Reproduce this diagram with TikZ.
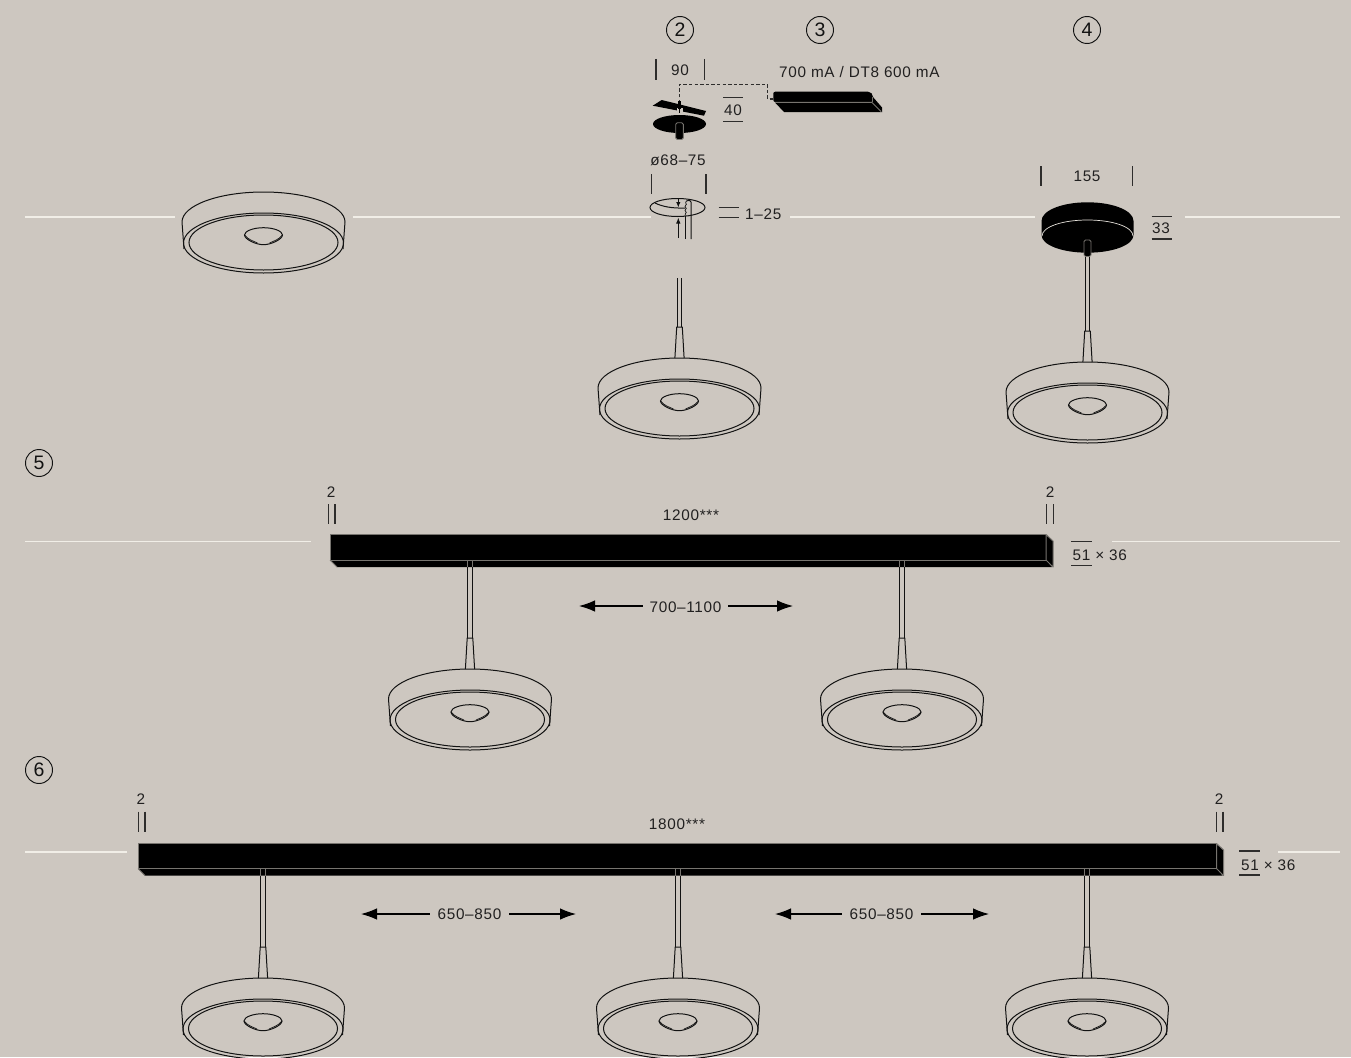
\documentclass[tikz,border=0pt]{standalone}
\usepackage{fontspec}
\setmainfont[LetterSpace=4.5]{Liberation Sans}
\definecolor{bgc}{HTML}{CDC7C0}
\definecolor{ink}{HTML}{121212}
\definecolor{edgegray}{HTML}{77746F}
\definecolor{axisc}{HTML}{F1EEE7}
\usetikzlibrary{arrows.meta}
\tikzset{
  lamp/.style={draw=ink,line width=1pt,fill=none},
  axisl/.style={draw=axisc,line width=1.5pt},
  tick/.style={draw=ink!85!bgc,line width=1.05pt},
  lbl/.style={text=ink!92!bgc,font=\fontsize{15.3pt}{17pt}\selectfont,inner sep=0pt},
  circnum/.style={draw=ink,line width=0.95pt,circle,minimum size=27pt,inner sep=0pt,text=ink,font=\fontsize{19.5pt}{20pt}\selectfont},
  dimarrow/.style={draw=black,line width=1.1pt,-{Latex[length=16pt,width=11.5pt]}},
}
\newcommand{\lampbody}[2]{%
  \begin{scope}[shift={(#1,#2)}]
    \draw[lamp,line join=round] (-79.5,6) -- (-81.5,-21)
       .. controls (-81.5,-37.5) and (-45,-51) .. (0,-51)
       .. controls (45,-51) and (81.5,-37.5) .. (81.5,-21) -- (79.5,6);
    \draw[lamp] (0,0) ellipse [x radius=80,y radius=30];
    \draw[lamp] (0,-0.5) ellipse [x radius=74.5,y radius=27.5];
    \draw[lamp] (-19,-8) .. controls (-19,-12) and (-10,-15.3) .. (0,-15.3)
       .. controls (10,-15.3) and (19,-12) .. (19,-8)
       .. controls (19,-4) and (8,1.7) .. (0,1.7)
       .. controls (-8,1.7) and (-19,-4) .. cycle;
    \draw[lamp,line width=0.7pt] (-19,-8) .. controls (-15,-3) and (-10,-2) .. (-6,0);
    \draw[lamp,line width=0.7pt] (19,-8) .. controls (15,-3) and (10,-2) .. (6,0);
  \end{scope}}
\newcommand{\lampstem}[3]{%
  \begin{scope}[shift={(#1,#2)}]
    \draw[lamp] (-2.2,#3) -- (-2.2,-82);
    \draw[lamp] (2.2,#3) -- (2.2,-82);
    \draw[lamp,line join=round] (-4.6,-51) -- (-2.8,-82) -- (2.8,-82) -- (4.6,-51);
  \end{scope}}
\newcommand{\barbody}[4]{% left, right, top, sep
  \fill[black] (#1,#3) rectangle (#2,#4);
  \fill[black] (#1,#4) -- (#1+7,#4+7) -- (#2+6,#4+7) -- (#2,#4) -- cycle;
  \draw[edgegray,line width=1pt] (#1,#4) -- (#1,#3) -- (#2,#3);
  \draw[edgegray,line width=1pt] (#1,#4) -- (#2,#4);
  \draw[edgegray,line width=1pt] (#1,#4) -- (#1+7,#4+7);
  \filldraw[fill=black,draw=edgegray,line width=1pt,line join=round] (#2,#3) -- (#2+7,#3+6.5) -- (#2+7,#4+7) -- (#2,#4) -- cycle;}
\begin{document}
\begin{tikzpicture}[x=1pt,y=-1pt]
\useasboundingbox (0,0) rectangle (1351,1057);
\fill[bgc] (0,0) rectangle (1351,1057);

% axis lines
\draw[axisl] (25,217) -- (175,217);
\draw[axisl] (353,217) -- (651,217);
\draw[axisl] (790,217) -- (1035,217);
\draw[axisl] (1185,217) -- (1340,217);
\draw[axisl] (25,541.5) -- (311,541.5);
\draw[axisl] (1112,541.5) -- (1340,541.5);
\draw[axisl] (25,852) -- (127,852);
\draw[axisl] (1278,852) -- (1340,852);

% circled numbers
\node[circnum] (c2) at (680,30) {2};
\node[circnum] (c3) at (820,30) {3};
\node[circnum] (c4) at (1087,30) {4};
\node[circnum] (c5) at (39,463) {5};
\node[circnum] (c6) at (39,770) {6};

% lamps
\lampbody{263.5}{243}
\lampbody{679.5}{409}
\lampbody{1087.5}{413}
\lampbody{470}{720}
\lampbody{902}{720}
\lampbody{263}{1029}
\lampbody{678}{1029}
\lampbody{1087}{1029}
\lampstem{679.5}{409}{-131}
\lampstem{1087.5}{413}{-156}
\lampstem{470}{720}{-157}
\lampstem{902}{720}{-157}
\lampstem{263}{1029}{-159}
\lampstem{678}{1029}{-159}
\lampstem{1087}{1029}{-159}

% item 2: top part
\node[lbl] (t90) at (680,70) {90};
\draw[tick] (656,59) -- (656,80);
\draw[tick] (704.5,59) -- (704.5,80);
\node[lbl,anchor=west] (tdrv) at (779,72) {700 mA / DT8 600 mA};
\coordinate (dashA) at (679.5,103);
\coordinate (dashB) at (773,99);
\draw[draw=ink!85!bgc,line width=1.15pt,dash pattern=on 3.4pt off 2.2pt] (dashA) -- (679.5,84.5) -- (767.7,84.5) -- (767.7,99) -- (dashB);
\fill[black] (661.7,100) -- (706,111) -- (704,115.7) -- (652.7,105.7) -- cycle;
\fill[bgc] (676.7,107.8) rectangle (682.7,112.7);
\draw[black,line width=0.8pt] (679.6,107.8) -- (679.6,112.7);
\draw[black,line width=3pt] (679.5,101) -- (679.5,108.5);
\fill[black] (679.5,124) ellipse [x radius=26.5,y radius=9];
\filldraw[fill=black,draw=edgegray,line width=0.9pt,rounded corners=1.5pt] (675.7,139.5) -- (675.7,122.7) -- (683.3,122.7) -- (683.3,139.5) -- cycle;
\node[lbl] (t40) at (733,110) {40};
\draw[tick] (723,97.7) -- (743,97.7);
\draw[tick] (723,121.5) -- (743,121.5);
% driver
\fill[black,rounded corners=2pt] (773.3,102) -- (773.3,91.7) -- (870,91.7) -- (873,95) -- (873,102) -- cycle;
\fill[black] (775,102.5) -- (784,112) -- (882,112) -- (872,102.5) -- cycle;
\fill[black] (872.5,96.5) -- (882,107.5) -- (882,112) -- (871.5,102.5) -- cycle;
\draw[edgegray,line width=0.9pt] (775,102.3) -- (871.7,102.3) -- (881,111.5);
\draw[edgegray,line width=0.9pt] (872.7,96.7) -- (872.7,102);

% item 2: ceiling hole
\node[lbl] (t68) at (678,160) {ø68–75};
\draw[tick] (651.7,174) -- (651.7,194);
\draw[tick] (706,174) -- (706,194);
\draw[lamp] (677.5,207.5) ellipse [x radius=27.5,y radius=9];
\draw[lamp] (655,203) .. controls (662,206.5) and (672,208.5) .. (685,208);
\draw[lamp] (685,239) -- (685,216);
\draw[lamp] (691,239) -- (691,202) .. controls (691,200) and (688,199.5) .. (686.5,201);
\draw[lamp,line width=0.7pt] (686.5,201) .. controls (684,203) and (688,204) .. (685.5,205.5) .. controls (683.5,207) and (688,208) .. (685.5,209.5) .. controls (683.5,211) and (688,212) .. (685.5,213.5) .. controls (684.5,214.5) and (685,215) .. (685,216);
\coordinate (ardnA) at (678.3,198.5);
\coordinate (ardnB) at (678.3,207.5);
\coordinate (arupA) at (678.3,238);
\coordinate (arupB) at (678.3,217.5);
\draw[draw=ink,line width=0.95pt,-{Latex[length=5.5pt,width=4.5pt]}] (ardnA) -- (ardnB);
\draw[draw=ink,line width=0.95pt,-{Latex[length=6pt,width=4.5pt]}] (arupA) -- (arupB);
\node[lbl,anchor=west] (t125) at (745,214) {1–25};
\draw[tick] (718.5,207.7) -- (739,207.7);
\draw[tick] (718.5,217.3) -- (739,217.3);

% item 4: canopy
\node[lbl] (t155) at (1087,176) {155};
\draw[tick] (1041,166) -- (1041,186);
\draw[tick] (1132.5,166) -- (1132.5,186);
\fill[black] (1041.5,221) .. controls (1041.5,210.5) and (1062,202.3) .. (1087.5,202.3)
   .. controls (1113,202.3) and (1133.5,210.5) .. (1133.5,221) -- (1133.5,235)
   .. controls (1133.5,245) and (1113,252.7) .. (1087.5,252.7)
   .. controls (1062,252.7) and (1041.5,245) .. (1041.5,235) -- cycle;
\draw[draw=axisc!70!bgc,line width=0.7pt] (1042,236) .. controls (1042,227) and (1062,220) .. (1087.5,220) .. controls (1113,220) and (1133,227) .. (1133,236);
\filldraw[fill=black,draw=edgegray,line width=0.9pt,rounded corners=1.5pt] (1084,256.5) -- (1084,240) -- (1091,240) -- (1091,256.5) -- cycle;
\node[lbl] (t33) at (1161,228) {33};
\draw[tick] (1151.5,216.7) -- (1172,216.7);
\draw[tick] (1151.5,239) -- (1172,239);

% item 5
\barbody{330}{1046}{534.5}{560}
\draw[edgegray,line width=1pt] (467.7,560.5) -- (467.7,567);
\draw[edgegray,line width=1pt] (472.3,560.5) -- (472.3,567);
\draw[edgegray,line width=1pt] (899.6,560.5) -- (899.6,567);
\draw[edgegray,line width=1pt] (904.4,560.5) -- (904.4,567);
\node[lbl] (t2a) at (331,492) {2};
\draw[tick] (328.3,504) -- (328.3,524);
\draw[tick] (335,504) -- (335,524);
\node[lbl] (t2b) at (1050,492) {2};
\draw[tick] (1046.7,504) -- (1046.7,524);
\draw[tick] (1053.7,504) -- (1053.7,524);
\node[lbl] (t1200) at (691,515) {1200***};
\node[lbl,inner xsep=6.5pt] (t700) at (685.5,607) {700–1100};
\coordinate (a1) at (579,606);
\coordinate (a2) at (793,606);
\draw[dimarrow] (a1 -| t700.west) -- (a1);
\draw[dimarrow] (a2 -| t700.east) -- (a2);
\node[lbl,anchor=west] (t51a) at (1072.5,555) {51 × 36};
\draw[tick] (1071,541.5) -- (1092,541.5);
\draw[tick] (1071,565.3) -- (1092,565.3);

% item 6
\barbody{138}{1216.5}{843.5}{868.5}
\draw[edgegray,line width=1pt] (260.6,869) -- (260.6,875.5);
\draw[edgegray,line width=1pt] (265.4,869) -- (265.4,875.5);
\draw[edgegray,line width=1pt] (675.6,869) -- (675.6,875.5);
\draw[edgegray,line width=1pt] (680.4,869) -- (680.4,875.5);
\draw[edgegray,line width=1pt] (1084.6,869) -- (1084.6,875.5);
\draw[edgegray,line width=1pt] (1089.4,869) -- (1089.4,875.5);
\node[lbl] (t2c) at (141,799) {2};
\draw[tick] (138.5,811.5) -- (138.5,832);
\draw[tick] (145,811.5) -- (145,832);
\node[lbl] (t2d) at (1219,799) {2};
\draw[tick] (1216.3,811.5) -- (1216.3,832);
\draw[tick] (1223,811.5) -- (1223,832);
\node[lbl] (t1800) at (677,824) {1800***};
\node[lbl,inner xsep=7.5pt] (t650a) at (469.5,914.5) {650–850};
\coordinate (b1) at (361,914);
\coordinate (b2) at (576,914);
\draw[dimarrow] (b1 -| t650a.west) -- (b1);
\draw[dimarrow] (b2 -| t650a.east) -- (b2);
\node[lbl,inner xsep=7.5pt] (t650b) at (881.5,914.5) {650–850};
\coordinate (b3) at (775,914);
\coordinate (b4) at (989,914);
\draw[dimarrow] (b3 -| t650b.west) -- (b3);
\draw[dimarrow] (b4 -| t650b.east) -- (b4);
\node[lbl,anchor=west] (t51b) at (1241,865) {51 × 36};
\draw[tick] (1239,851) -- (1260,851);
\draw[tick] (1239,875) -- (1260,875);
\end{tikzpicture}
\end{document}
